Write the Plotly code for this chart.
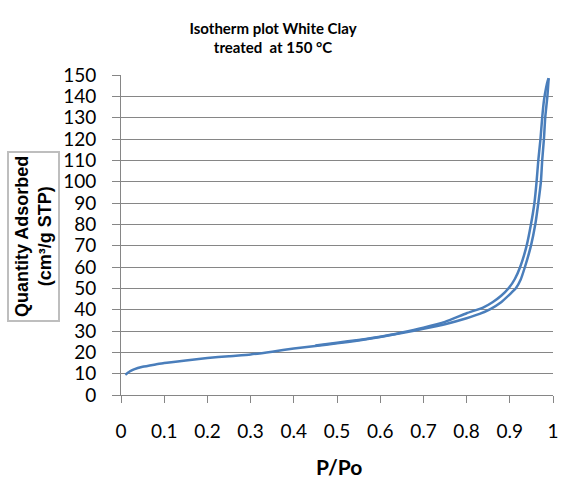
import plotly.graph_objects as go

# adsorption branch (P/Po, quantity adsorbed cm3/g STP)
ads_p = [0.01, 0.02, 0.03, 0.05, 0.08, 0.1, 0.15, 0.2, 0.25, 0.3, 0.35, 0.4,
         0.45, 0.5, 0.55, 0.6, 0.65, 0.7, 0.75, 0.8, 0.83, 0.855, 0.88, 0.9,
         0.914, 0.925, 0.935, 0.949, 0.959, 0.966, 0.972, 0.975, 0.979, 0.982,
         0.987, 0.99]
ads_q = [9.5, 11, 12, 13.2, 14.3, 15, 16.2, 17.3, 18.2, 19, 20.3, 21.8,
         23, 24.2, 25.6, 27.2, 29, 31, 33.2, 36, 38, 40.3, 43.5, 47.2,
         50, 54, 60, 70, 80, 90, 100, 110, 120, 130,
         140, 148.5]

# desorption branch
des_p = [0.99, 0.988, 0.984, 0.979, 0.975, 0.971, 0.966, 0.962, 0.957, 0.949, 0.939,
         0.924, 0.912, 0.899, 0.88, 0.86, 0.838, 0.8, 0.75, 0.7, 0.65,
         0.6, 0.55, 0.5, 0.45]
des_q = [148.5, 147.5, 144, 138, 130, 120, 110, 100, 90, 80, 70,
         60, 54.5, 50.5, 46.5, 43.5, 41, 38.3, 34.3, 31.6, 29.3,
         27.3, 25.8, 24.5, 23.2]

x_ticks = [0, 0.1, 0.2, 0.3, 0.4, 0.5, 0.6, 0.7, 0.8, 0.9, 1]
x_labels = ["0", "0.1", "0.2", "0.3", "0.4", "0.5", "0.6", "0.7", "0.8", "0.9", "1"]

line_col = "rgb(74,126,187)"
grid_col = "rgb(134,134,134)"
fnt = "Lato, Carlito, Calibri, sans-serif"
arial = "Liberation Sans, Arial, sans-serif"

fig = go.Figure()
fig.add_trace(go.Scatter(x=ads_p, y=ads_q, mode="lines",
                         line=dict(color=line_col, width=2.5, shape="spline", smoothing=0.5)))
fig.add_trace(go.Scatter(x=des_p, y=des_q, mode="lines",
                         line=dict(color=line_col, width=2.5, shape="spline", smoothing=0.5)))

fig.update_layout(
    width=576, height=480,
    margin=dict(l=121, r=23, t=75, b=85),
    paper_bgcolor="white", plot_bgcolor="white",
    showlegend=False,
    font=dict(family=fnt, color="black"),
    title=dict(text="<b>Isotherm plot White Clay<br>treated  at 150 °C</b>",
               font=dict(size=15, family=fnt), xref="container", x=0.474,
               xanchor="center", yref="container", y=0.93, yanchor="middle"),
)

fig.update_xaxes(range=[0, 1], tickvals=x_ticks, ticktext=x_labels,
                 showgrid=False, showline=True, linecolor=grid_col, linewidth=1,
                 ticks="outside", ticklen=7, tickcolor=grid_col,
                 tickfont=dict(size=19), ticklabelstandoff=12, zeroline=False)
fig.update_yaxes(range=[0, 150], dtick=10, showgrid=True, gridcolor=grid_col, gridwidth=1,
                 showline=True, linecolor=grid_col, linewidth=1,
                 ticks="outside", ticklen=8, tickcolor=grid_col,
                 tickfont=dict(size=19), ticklabelstandoff=12, zeroline=False)

# boxed y axis title
fig.add_annotation(text="<b>Quantity Adsorbed<br>(cm³/g STP)</b>", textangle=-90,
                   xref="paper", yref="paper", x=(33 - 121) / 432, y=(395 - 237) / 320,
                   xanchor="center", yanchor="middle", showarrow=False,
                   font=dict(size=18, family=arial), bordercolor="rgb(190,190,190)",
                   borderwidth=2, borderpad=3, bgcolor="white")
fig.add_annotation(text="<b>P/Po</b>", xref="paper", yref="paper",
                   x=(339 - 121) / 432, y=-(466 - 395) / 320, xanchor="center", yanchor="middle",
                   showarrow=False, font=dict(size=21, family=fnt))

fig.write_html("out.html", config={"displayModeBar": False},
               post_script="document.body.style.margin='0px';")
